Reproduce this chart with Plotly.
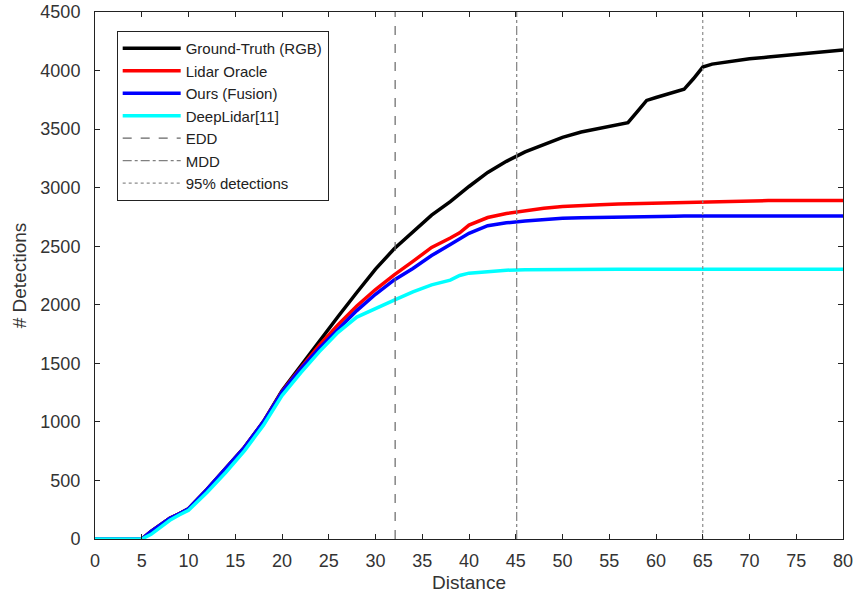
import plotly.graph_objects as go

# ---- data ----
dist = [0, 5, 6, 7, 8, 9, 10, 12, 14, 16, 18, 20, 21, 22, 24, 26, 28, 30, 32, 34, 36, 38, 39, 40,
        42, 44, 46, 48, 50, 52, 54, 56, 57, 58, 59, 60, 62, 63, 64, 65, 66, 68, 70, 72, 74, 76, 78, 80]

ground_truth = [0, 0, 65, 125, 178, 215, 258, 425, 600, 785, 1000, 1265, 1372, 1478, 1695, 1900, 2105, 2305,
                2478, 2625, 2765, 2880, 2945, 3010, 3130, 3225, 3305, 3370, 3430, 3475, 3510, 3540, 3555,
                3650, 3745, 3770, 3815, 3840, 3930, 4030, 4055, 4080, 4100, 4115, 4130, 4145, 4160, 4175]

lidar_oracle = [0, 0, 65, 125, 178, 215, 258, 425, 600, 785, 1000, 1260, 1362, 1462, 1655, 1830, 1990, 2130,
                2255, 2370, 2490, 2570, 2615, 2680, 2745, 2780, 2805, 2825, 2840, 2850, 2855, 2860, 2862,
                2865, 2868, 2870, 2875, 2878, 2880, 2882, 2885, 2888, 2890, 2890, 2890, 2890, 2890, 2890]

ours_fusion = [0, 0, 65, 125, 178, 215, 258, 425, 600, 785, 1000, 1255, 1355, 1452, 1630, 1790, 1950, 2090,
               2212, 2310, 2420, 2515, 2562, 2610, 2675, 2700, 2715, 2730, 2738, 2743, 2747, 2750, 2751,
               2752, 2753, 2755, 2756, 2757, 2757, 2758, 2758, 2758, 2758, 2758, 2758, 2758, 2758, 2758]

deep_lidar = [0, 0, 40, 100, 160, 205, 245, 400, 570, 755, 970, 1225, 1325, 1418, 1600, 1765, 1895, 1970,
              2040, 2110, 2170, 2210, 2250, 2270, 2285, 2295, 2300, 2302, 2303, 2303, 2303, 2303, 2303,
              2303, 2303, 2303, 2303, 2303, 2303, 2303, 2303, 2303, 2303, 2303, 2303, 2303, 2303, 2303]

edd = 32.1
mdd = 45.1
p95 = 65.0
y_span = [0, 4500]

x_ticks = list(range(0, 81, 5))
y_ticks = list(range(0, 4501, 500))

fig = go.Figure()
series = [
    ("Ground-Truth (RGB)", ground_truth, "black"),
    ("Lidar Oracle", lidar_oracle, "#ff0000"),
    ("Ours (Fusion)", ours_fusion, "#0000ff"),
    ("DeepLidar[11]", deep_lidar, "#00ffff"),
]
for name, vals, col in series:
    fig.add_trace(go.Scatter(x=dist, y=vals, mode="lines", name=name,
                             line=dict(color=col, width=3.5)))

for name, xv, dash, col in [("EDD", edd, "dash", "#666666"), ("MDD", mdd, "dashdot", "#808080"),
                            ("95% detections", p95, "dot", "#8c8c8c")]:
    fig.add_trace(go.Scatter(x=[xv, xv], y=y_span, mode="lines", name=name,
                             line=dict(color=col, width=1.2, dash=dash)))

axis_common = dict(showline=True, linecolor="#222", linewidth=1, mirror="ticks",
                   ticks="inside", ticklen=5, tickcolor="#222", showgrid=False, zeroline=False,
                   automargin=False, ticklabeloverflow="allow", tickfont=dict(size=18, color="#333"))

fig.update_xaxes(range=[0, 80], tickvals=x_ticks,
                 title=dict(text="Distance", font=dict(size=19, color="#333"), standoff=6),
                 ticklabelstandoff=5, **axis_common)
fig.update_yaxes(range=[0, 4500], tickvals=y_ticks,
                 title=dict(text="# Detections", font=dict(size=19, color="#333"), standoff=8),
                 ticklabelstandoff=10, **axis_common)

fig.update_layout(
    width=854, height=599,
    margin=dict(l=95, r=11, t=12, b=60),
    paper_bgcolor="white", plot_bgcolor="white",
    font=dict(family="Liberation Sans, Arial, sans-serif", color="#333"),
    legend=dict(x=0.029, y=0.964, xanchor="left", yanchor="top",
                bgcolor="white", bordercolor="#222", borderwidth=1, itemwidth=58,
                font=dict(size=15, color="#222"), tracegroupgap=0),
    showlegend=True,
)

# remove the page's default 8px body margin so the figure fills the window exactly
fig.write_html("out.html", config={"displayModeBar": False},
               post_script="document.body.style.margin='0';")
